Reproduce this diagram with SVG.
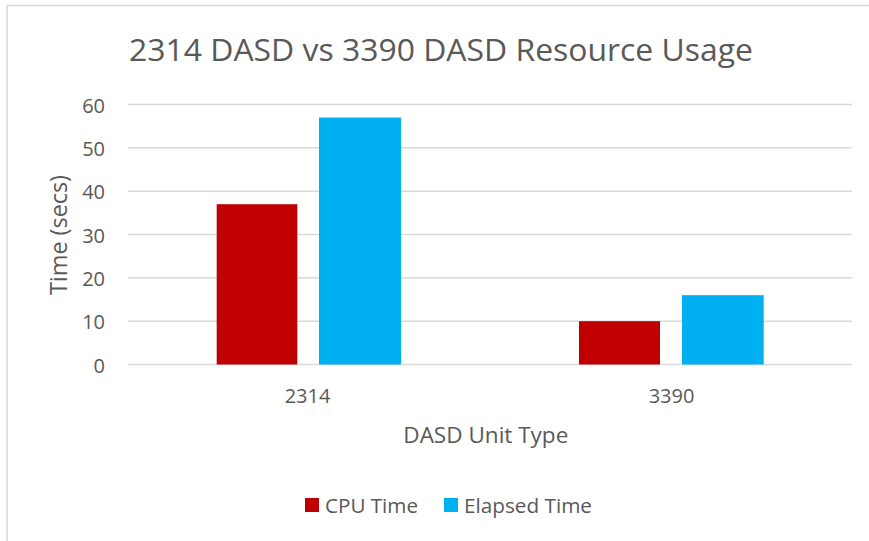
<svg xmlns="http://www.w3.org/2000/svg" width="869" height="541" viewBox="0 0 869 541">
<style>
text{font-family:"Open Sans","Liberation Sans",sans-serif;fill:#595959}
.tick{font-size:20px}
.grid{stroke:#D9D9D9;stroke-width:1.5;fill:none}
.cpu{fill:#C00000}
.ela{fill:#00B0F0}
</style>
<rect x="0" y="0" width="869" height="541" fill="#FFFFFF"/>
<path d="M7,541 V5.5 H869" fill="none" stroke="#D9D9D9" stroke-width="1.5"/>
<text id="title" x="129" y="61" font-size="31.5" textLength="624" lengthAdjust="spacingAndGlyphs">2314 DASD vs 3390 DASD Resource Usage</text>
<g id="gridlines">
<path class="grid" d="M128,104.5H852M128,147.8H852M128,191.2H852M128,234.5H852M128,277.8H852M128,321.2H852M128,364.5H852"/>
</g>
<g id="y-axis" class="tick" text-anchor="end">
<text x="105" y="112.5">60</text>
<text x="105" y="155.8">50</text>
<text x="105" y="199.2">40</text>
<text x="105" y="242.5">30</text>
<text x="105" y="285.8">20</text>
<text x="105" y="329.2">10</text>
<text x="105" y="372.5">0</text>
</g>
<g id="x-axis" class="tick" text-anchor="middle">
<text x="307.5" y="402.5">2314</text>
<text x="671.5" y="402.5">3390</text>
</g>
<g id="bars">
<rect class="cpu" x="216.7" y="204.2" width="80.6" height="160.3"/>
<rect class="ela" x="319" y="117.5" width="82" height="247"/>
<rect class="cpu" x="579" y="321.2" width="81" height="43.3"/>
<rect class="ela" x="682" y="295.2" width="81.7" height="69.3"/>
</g>
<text id="y-title" transform="translate(66.5,235) rotate(-90)" font-size="23" text-anchor="middle" textLength="120" lengthAdjust="spacingAndGlyphs">Time (secs)</text>
<text id="x-title" x="485.8" y="443.3" font-size="22.5" text-anchor="middle" textLength="165" lengthAdjust="spacingAndGlyphs">DASD Unit Type</text>
<g id="legend" font-size="20.5">
<rect class="cpu" x="305" y="498" width="14" height="14"/>
<text x="325" y="512.5" textLength="93" lengthAdjust="spacingAndGlyphs">CPU Time</text>
<rect class="ela" x="444" y="498" width="14" height="14"/>
<text x="464" y="512.5" textLength="128" lengthAdjust="spacingAndGlyphs">Elapsed Time</text>
</g>
</svg>
